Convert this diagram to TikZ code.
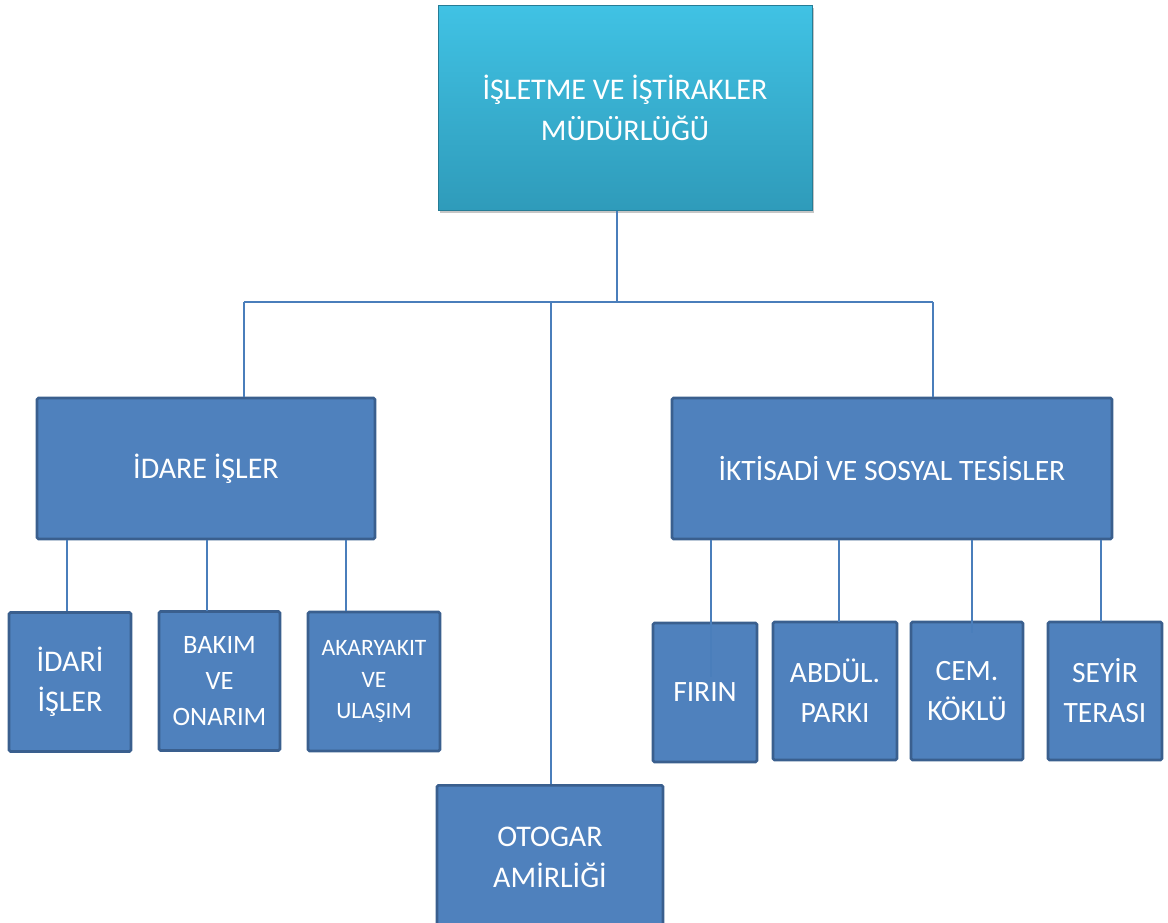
\documentclass[tikz,border=0pt]{standalone}
\usepackage{fontspec}
\setmainfont{Carlito}
\usetikzlibrary{shadows}
\definecolor{boxblue}{HTML}{4F81BD}
\definecolor{boxedge}{HTML}{3A5F8E}
\definecolor{linec}{HTML}{4A7EBB}
\definecolor{cyantop}{HTML}{40C2E4}
\definecolor{cyanbot}{HTML}{2F9BBA}
\begin{document}
\begin{tikzpicture}[x=1pt,y=-1pt,
  unit/.style={draw=boxedge, line width=2.6pt, fill=boxblue, rounded corners=1.5pt,
    text=white, align=center, inner sep=0pt},
  headbox/.style={draw=cyanbot!80!black, line width=0.6pt, top color=cyantop, bottom color=cyanbot,
    text=white, align=center, inner sep=0pt,
    drop shadow={opacity=0.45, shadow xshift=1.5pt, shadow yshift=-2.5pt}},
  conn/.style={draw=linec, line width=1.2pt}]
\useasboundingbox (0,0) rectangle (1168,922);
% boxes
\node[headbox, minimum width=374pt, minimum height=205pt, font=\fontsize{30}{41}\selectfont] (top) at (625,108)
  {İŞLETME VE İŞTİRAKLER\\MÜDÜRLÜĞÜ};
\node[unit, minimum width=338pt, minimum height=141pt, font=\fontsize{30}{40}\selectfont] (idare) at (206,468.5)
  {İDARE İŞLER};
\node[unit, minimum width=440pt, minimum height=141pt, font=\fontsize{29.6}{40}\selectfont] (tes) at (892,468.5)
  {İKTİSADİ VE SOSYAL TESİSLER};
\node[unit, minimum width=122pt, minimum height=139pt, font=\fontsize{30}{40}\selectfont] (idari) at (70,682)
  {İDARİ\\İŞLER};
\node[unit, minimum width=121pt, minimum height=139pt, font=\fontsize{26.5}{36}\selectfont] (bakim) at (219.5,681)
  {BAKIM\\VE\\ONARIM};
\node[unit, minimum width=132pt, minimum height=139pt, font=\fontsize{23.5}{31.5}\selectfont] (akar) at (374,681.5)
  {AKARYAKIT\\VE\\ULAŞIM};
\node[unit, minimum width=104pt, minimum height=139pt, font=\fontsize{29.5}{40}\selectfont] (firin) at (705,692.5)
  {FIRIN};
\node[unit, minimum width=124pt, minimum height=138pt, font=\fontsize{29.5}{40}\selectfont] (abdul) at (835,691)
  {ABDÜL.\\PARKI};
\node[unit, minimum width=112pt, minimum height=138pt, font=\fontsize{29.5}{40}\selectfont] (cem) at (967,691)
  {CEM.\\KÖKLÜ};
\node[unit, minimum width=114pt, minimum height=138pt, font=\fontsize{29.5}{40}\selectfont] (seyir) at (1105,691)
  {SEYİR\\TERASI};
\node[unit, minimum width=226pt, minimum height=150pt, anchor=north] (otogar) at (550,784)
  {};
\node[text=white, align=center, font=\fontsize{30}{41}\selectfont] (otogartxt) at (550,857)
  {OTOGAR\\AMİRLİĞİ};
% junction points
\coordinate (busT) at (617,302);
\coordinate (busL) at (244,302);
\coordinate (busR) at (933,302);
\coordinate (busO) at (551,302);
\coordinate (cI) at (67,611);
\coordinate (cB) at (207,611);
\coordinate (cA) at (346,611);
\coordinate (cF) at (711,677);
\coordinate (cP) at (839,622);
\coordinate (cC) at (972,633);
\coordinate (cS) at (1101,622);
% connectors
\draw[conn] (top.south -| busT) -- (busT);
\draw[conn] (busL) -- (busR);
\draw[conn] (busL) -- (idare.north -| busL);
\draw[conn] (busR) -- (tes.north -| busR);
\draw[conn] (busO) -- (otogar.north -| busO);
\draw[conn] (idare.south -| cI) -- (cI);
\draw[conn] (idare.south -| cB) -- (cB);
\draw[conn] (idare.south -| cA) -- (cA);
\draw[conn] (tes.south -| cF) -- (cF);
\draw[conn] (tes.south -| cP) -- (cP);
\draw[conn] (tes.south -| cC) -- (cC);
\draw[conn] (tes.south -| cS) -- (cS);
\end{tikzpicture}
\end{document}
